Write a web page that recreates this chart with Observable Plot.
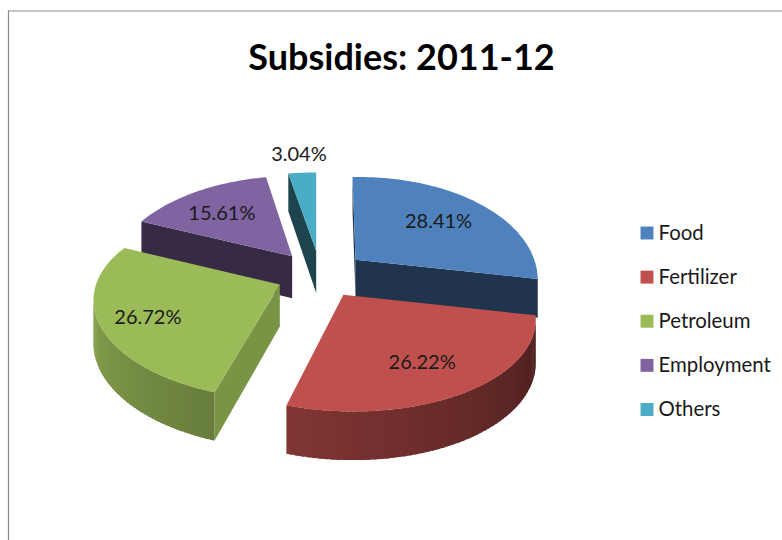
<!DOCTYPE html>
<html>
<head>
<meta charset="utf-8">
<script src="https://cdn.jsdelivr.net/npm/d3@7"></script>
<script src="https://cdn.jsdelivr.net/npm/@observablehq/plot@0.6"></script>
<style>
  html, body { margin: 0; padding: 0; background: #fff; }
  svg { display: block; }
</style>
</head>
<body>
<div id="chart"></div>
<script>
// Share of subsidies by head, 2011-12 (percent)
const categories = ["Food", "Fertilizer", "Petroleum", "Employment", "Others"];
const shares = [28.41, 26.22, 26.72, 15.61, 3.04];
const colors = ["#4f81bd", "#c0504d", "#9bbb59", "#8064a2", "#4bacc6"];

// Exploded tilted-disc layout, in screen units of the plot's position scales
const centre = {x: 320, y: 274};
const radius = {x: 186, y: 95};
const explode = {x: 45, y: 23.5};
const perspective = 0.207;
const thickness = 42;

// Per-slice camera distortion: each exploded slice sits at its own place in the view
const stretchX = [0.955, 1, 0.98, 0.955, 0.95];
const stretchY = [1.05, 0.975, 0.96, 1.02, 1];
const slant = [-3, -10, 0, 2, 0];
const tilt = [-3, 0, 4, 0, 0];
const depthScale = [0.9, 1, 1, 1, 1];

// Brightness of the radial cut faces, and where each value label sits within its slice
const cutShade = [0.41, 0.4, 0.79, 0.42, 0.4];
const labelReach = [0.65, 0.72, 0.76, 0.66, 1.3];
const labelTurn = [1, 2.5, -3, -3, 0];
const wallShade = d3.scaleLinear([102, 270], [0.38, 0.9]);
const paintOrder = [4, 3, 0, 2, 1];

const total = d3.sum(shares);
const ends = d3.cumsum(shares).map((c) => (c / total) * 360);
const slices = categories.map((name, i) => {
  const a0 = i ? ends[i - 1] : 0;
  const a1 = ends[i];
  return {name, i, a0, a1, mid: (a0 + a1) / 2};
});

const rad = (deg) => (deg * Math.PI) / 180;
const darken = (c, k) => {
  const r = d3.rgb(c);
  return d3.rgb(r.r * k, r.g * k, r.b * k).formatHex();
};

// Projects a point of a slice (angle clockwise from twelve o'clock, r in 0..1)
function project(slice, deg, r, lower = false) {
  const k = slice.i;
  const u = r * Math.sin(rad(deg));
  const v = r * Math.cos(rad(deg));
  const s = 1 / (1 + perspective * v);
  const depth = lower ? depthScale[k] * thickness * (1 + (s - 1) * 0.6) : 0;
  return {
    x: centre.x + explode.x * Math.sin(rad(slice.mid)) + radius.x * u * s * stretchX[k] + slant[k] * v,
    y: centre.y - explode.y * Math.cos(rad(slice.mid)) - radius.y * v * s * stretchY[k] + tilt[k] * u + depth
  };
}

// Every face becomes one filled polygon, painted back to front
const faces = [];
let faceId = 0;
const addFace = (points, fill) => {
  const id = faceId++;
  points.forEach((p) => faces.push({...p, id, fill}));
};

for (const k of paintOrder) {
  const slice = slices[k];
  const colour = colors[k];
  const apex = project(slice, slice.a0, 0);
  const apexLow = project(slice, slice.a0, 0, true);
  const cut = (deg) => addFace([
    apex,
    project(slice, deg, 1),
    project(slice, deg, 1, true),
    apexLow
  ], darken(colour, cutShade[k]));

  // Only cut faces turned toward the viewer are drawn
  if (project(slice, slice.a0, 1).x < apex.x - 0.5) cut(slice.a0);
  if (project(slice, slice.a1, 1).x > apex.x + 0.5) cut(slice.a1);

  // Curved outer wall, split into narrow overlapping strips for its shading
  const step = 1.5;
  for (let a = slice.a1 - step; a > slice.a0 - step; a -= step) {
    const from = Math.max(a, slice.a0);
    const to = Math.min(a + step * 1.6, slice.a1);
    const p0 = project(slice, from, 1);
    const p1 = project(slice, to, 1);
    if (p1.x >= p0.x) continue;
    addFace([p0, p1, project(slice, to, 1, true), project(slice, from, 1, true)],
      darken(colour, wallShade(from + step / 2)));
  }

  // Top surface
  const top = [apex];
  for (let a = slice.a0; a < slice.a1; a += step) top.push(project(slice, a, 1));
  top.push(project(slice, slice.a1, 1));
  addFace(top, colour);
}

const valueLabels = slices.map((s) => ({
  ...project(s, s.mid + labelTurn[s.i], labelReach[s.i]),
  text: `${shares[s.i].toFixed(2)}%`
}));

// Legend rows
const legendX = 640;
const legendY = d3.scaleLinear([0, 4], [232.5, 409]);
const legend = categories.map((name, i) => ({name, y: legendY(i), fill: colors[i]}));

const chart = Plot.plot({
  width: 782,
  height: 540,
  margin: 0,
  x: {domain: [0, 782], range: [0, 782], axis: null},
  y: {domain: [0, 540], range: [0, 540], axis: null},
  color: {type: "identity"},
  style: {background: "#fff"},
  marks: [
    Plot.ruleY([10.5], {x1: 8, x2: 782, stroke: "#8c8c8c", strokeWidth: 1.2}),
    Plot.ruleX([8], {y1: 10.5, y2: 540, stroke: "#8c8c8c", strokeWidth: 1.2}),
    Plot.line(faces, {
      x: "x", y: "y", z: "id", fill: "fill", stroke: null, curve: "linear"
    }),
    Plot.text(valueLabels, {
      x: "x", y: "y", text: "text", fill: "#1a1a1a",
      fontFamily: "Lato", fontSize: 20
    }),
    Plot.dot(legend, {
      x: () => legendX + 6.5, y: "y", symbol: "square", r: 7.3, fill: "fill", stroke: null
    }),
    Plot.text(legend, {
      x: () => legendX + 18, y: "y", text: "name", textAnchor: "start",
      fill: "#1a1a1a", fontFamily: "Lato", fontSize: 20.4
    }),
    Plot.text(["Subsidies: 2011-12"], {
      x: () => 401, y: () => 58, text: (d) => d, fill: "#000",
      fontFamily: "Lato", fontWeight: 700, fontSize: 36
    })
  ]
});
document.getElementById("chart").append(chart);
</script>
</body>
</html>
